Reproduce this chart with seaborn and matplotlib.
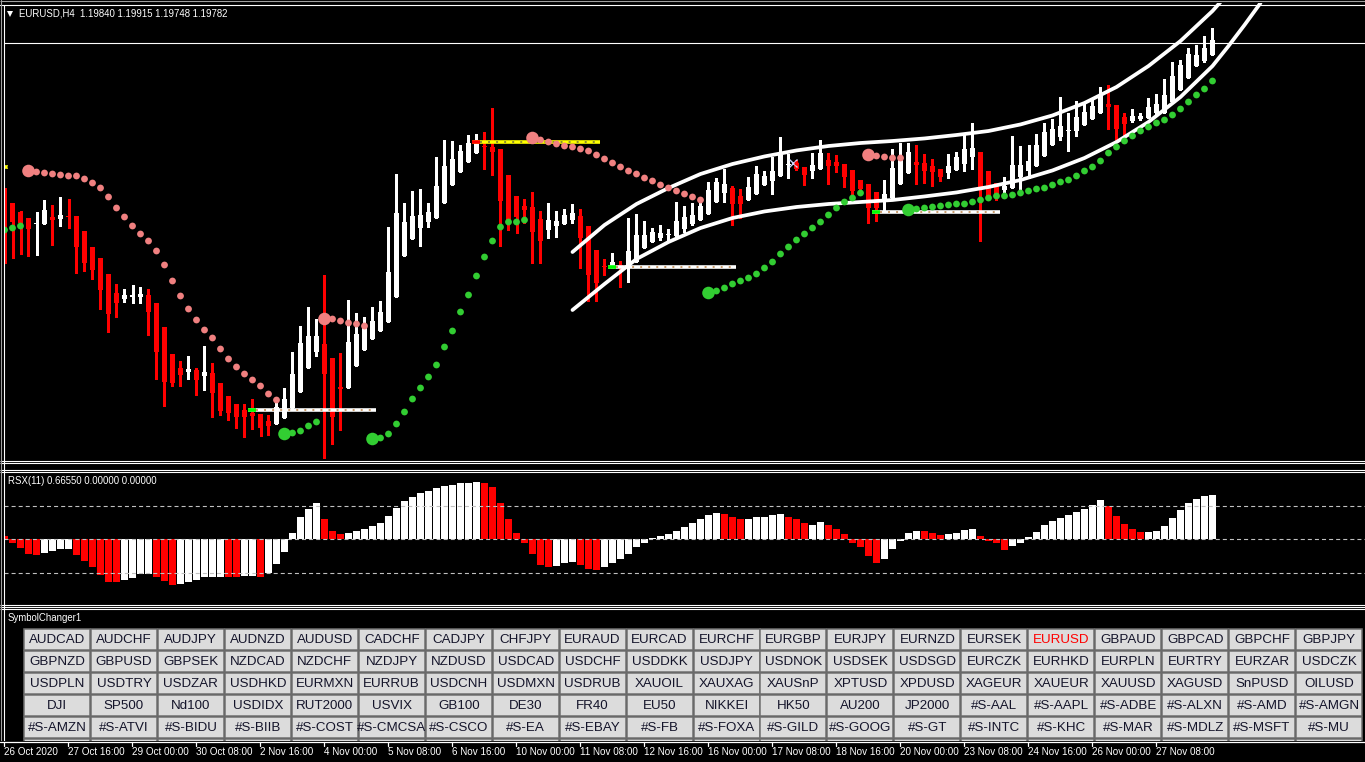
import matplotlib
matplotlib.use("Agg")
import matplotlib.pyplot as plt
from matplotlib.patches import Rectangle
import numpy as np
import seaborn as sns

sns.set_style("dark")
plt.rcParams["font.family"] = ["Liberation Sans", "DejaVu Sans"]
plt.rcParams["lines.scale_dashes"] = False

W, H = 1365, 762
RED = "#FF0000"
SALMON = "#F08080"
GREEN = "#32CD32"

# ---------------- data: EURUSD H4 candles, 26 Oct - 27 Nov 2020 ----------------
opens = [1.18397, 1.18343, 1.18262, 1.18208, 1.18154, 1.18154, 1.18217, 1.18199, 1.18226, 1.18226,
         1.18091, 1.17947, 1.17848, 1.17704, 1.17533, 1.17479, 1.17497, 1.17497, 1.17515, 1.17443,
         1.17227, 1.16984, 1.16858, 1.16822, 1.16840, 1.16786, 1.16813, 1.16723, 1.16606, 1.16534,
         1.16480, 1.16453, 1.16444, 1.16381, 1.16354, 1.16408, 1.16498, 1.16642, 1.16858, 1.17002,
         1.17074, 1.16948, 1.16687, 1.16678, 1.16876, 1.17020, 1.17119, 1.17191, 1.17272, 1.17497,
         1.17866, 1.18019, 1.18118, 1.18172, 1.18208, 1.18343, 1.18505, 1.18622, 1.18712, 1.18793,
         1.18856, 1.18847, 1.18829, 1.18595, 1.18406, 1.18316, 1.18307, 1.18199, 1.18100, 1.18136,
         1.18154, 1.18190, 1.18226, 1.18136, 1.17920, 1.17776, 1.17776, 1.17785, 1.17767, 1.17812,
         1.17938, 1.17992, 1.18028, 1.18055, 1.18046, 1.18109, 1.18154, 1.18190, 1.18244, 1.18352,
         1.18433, 1.18478, 1.18406, 1.18370, 1.18424, 1.18505, 1.18541, 1.18586, 1.18685, 1.18703,
         1.18667, 1.18631, 1.18649, 1.18730, 1.18712, 1.18694, 1.18640, 1.18550, 1.18514, 1.18442,
         1.18370, 1.18388, 1.18514, 1.18613, 1.18712, 1.18703, 1.18676, 1.18649, 1.18613, 1.18640,
         1.18694, 1.18757, 1.18802, 1.18631, 1.18523, 1.18460, 1.18478, 1.18577, 1.18631, 1.18676,
         1.18766, 1.18865, 1.18937, 1.18991, 1.18991, 1.19045, 1.19099, 1.19153, 1.19234, 1.19225,
         1.19117, 1.19081, 1.19099, 1.19108, 1.19153, 1.19153, 1.19252, 1.19360, 1.19468, 1.19576,
         1.19621, 1.19675]
highs = [1.18478, 1.18343, 1.18271, 1.18208, 1.18262, 1.18370, 1.18325, 1.18397, 1.18379, 1.18226,
         1.18091, 1.17947, 1.17848, 1.17704, 1.17614, 1.17569, 1.17605, 1.17587, 1.17569, 1.17443,
         1.17227, 1.16984, 1.16921, 1.16966, 1.16858, 1.17056, 1.16903, 1.16723, 1.16606, 1.16534,
         1.16534, 1.16579, 1.16444, 1.16435, 1.16561, 1.16678, 1.17002, 1.17236, 1.17407, 1.17299,
         1.17695, 1.16948, 1.16993, 1.17470, 1.17353, 1.17317, 1.17407, 1.17461, 1.18127, 1.18604,
         1.18343, 1.18451, 1.18469, 1.18343, 1.18757, 1.18910, 1.18901, 1.18865, 1.18955, 1.18964,
         1.18982, 1.19198, 1.18829, 1.18595, 1.18406, 1.18379, 1.18442, 1.18271, 1.18343, 1.18271,
         1.18289, 1.18334, 1.18289, 1.18136, 1.17920, 1.17839, 1.17893, 1.17821, 1.18208, 1.18244,
         1.18181, 1.18118, 1.18145, 1.18109, 1.18352, 1.18316, 1.18343, 1.18370, 1.18532, 1.18568,
         1.18649, 1.18496, 1.18469, 1.18577, 1.18676, 1.18631, 1.18757, 1.18937, 1.18784, 1.18730,
         1.18667, 1.18793, 1.18910, 1.18793, 1.18775, 1.18694, 1.18640, 1.18550, 1.18514, 1.18442,
         1.18550, 1.18829, 1.18883, 1.18883, 1.18865, 1.18784, 1.18739, 1.18649, 1.18784, 1.18802,
         1.18955, 1.19063, 1.18802, 1.18631, 1.18523, 1.18577, 1.18946, 1.18856, 1.18865, 1.18964,
         1.19063, 1.19099, 1.19297, 1.19153, 1.19261, 1.19243, 1.19279, 1.19387, 1.19405, 1.19225,
         1.19153, 1.19189, 1.19153, 1.19288, 1.19324, 1.19459, 1.19612, 1.19630, 1.19738, 1.19765,
         1.19846, 1.19918]
lows = [1.17803, 1.17845, 1.17882, 1.17864, 1.17873, 1.18154, 1.17965, 1.18136, 1.18118, 1.17713,
        1.17731, 1.17659, 1.17389, 1.17182, 1.17317, 1.17452, 1.17443, 1.17443, 1.17155, 1.16759,
        1.16516, 1.16696, 1.16696, 1.16759, 1.16615, 1.16660, 1.16417, 1.16435, 1.16390, 1.16318,
        1.16237, 1.16309, 1.16246, 1.16255, 1.16354, 1.16408, 1.16498, 1.16642, 1.16858, 1.16966,
        1.16048, 1.16174, 1.16300, 1.16678, 1.16876, 1.17020, 1.17119, 1.17191, 1.17272, 1.17497,
        1.17866, 1.18019, 1.17956, 1.18127, 1.18208, 1.18343, 1.18505, 1.18622, 1.18712, 1.18793,
        1.18649, 1.18595, 1.17956, 1.18100, 1.18073, 1.18163, 1.17803, 1.17803, 1.18028, 1.18037,
        1.18154, 1.18163, 1.17758, 1.17461, 1.17461, 1.17695, 1.17758, 1.17587, 1.17632, 1.17812,
        1.17938, 1.17992, 1.18010, 1.17992, 1.18046, 1.18082, 1.18145, 1.18190, 1.18244, 1.18352,
        1.18352, 1.18145, 1.18208, 1.18370, 1.18424, 1.18505, 1.18424, 1.18586, 1.18568, 1.18640,
        1.18505, 1.18568, 1.18649, 1.18514, 1.18622, 1.18487, 1.18370, 1.18424, 1.18163, 1.18181,
        1.18271, 1.18388, 1.18514, 1.18613, 1.18514, 1.18523, 1.18496, 1.18541, 1.18568, 1.18640,
        1.18631, 1.18649, 1.18001, 1.18370, 1.18370, 1.18415, 1.18478, 1.18460, 1.18568, 1.18676,
        1.18766, 1.18865, 1.18910, 1.18811, 1.18946, 1.19045, 1.19099, 1.19153, 1.19009, 1.18901,
        1.18955, 1.19072, 1.19090, 1.19108, 1.19126, 1.19153, 1.19252, 1.19360, 1.19468, 1.19576,
        1.19612, 1.19675]
closes = [1.18271, 1.18172, 1.18163, 1.18109, 1.18163, 1.18280, 1.18190, 1.18235, 1.18217, 1.17947,
          1.17803, 1.17740, 1.17560, 1.17344, 1.17443, 1.17515, 1.17515, 1.17524, 1.17362, 1.17002,
          1.16732, 1.16723, 1.16795, 1.16849, 1.16750, 1.16822, 1.16633, 1.16471, 1.16453, 1.16417,
          1.16417, 1.16426, 1.16318, 1.16336, 1.16507, 1.16579, 1.16804, 1.17083, 1.17146, 1.17146,
          1.16804, 1.16417, 1.16669, 1.17092, 1.17164, 1.17218, 1.17281, 1.17362, 1.17722, 1.18253,
          1.18172, 1.18226, 1.18235, 1.18262, 1.18496, 1.18676, 1.18739, 1.18811, 1.18883, 1.18910,
          1.18847, 1.18802, 1.18361, 1.18190, 1.18217, 1.18280, 1.18082, 1.18001, 1.18190, 1.18181,
          1.18235, 1.18253, 1.18028, 1.17695, 1.17623, 1.17767, 1.17812, 1.17776, 1.17911, 1.18055,
          1.18055, 1.18082, 1.18073, 1.18064, 1.18181, 1.18217, 1.18235, 1.18316, 1.18460, 1.18532,
          1.18514, 1.18334, 1.18334, 1.18487, 1.18604, 1.18586, 1.18631, 1.18775, 1.18694, 1.18649,
          1.18595, 1.18685, 1.18793, 1.18676, 1.18676, 1.18577, 1.18451, 1.18469, 1.18298, 1.18298,
          1.18424, 1.18658, 1.18730, 1.18802, 1.18685, 1.18631, 1.18622, 1.18577, 1.18676, 1.18757,
          1.18829, 1.18838, 1.18460, 1.18406, 1.18406, 1.18496, 1.18685, 1.18685, 1.18721, 1.18865,
          1.18982, 1.19009, 1.19036, 1.19000, 1.19117, 1.19162, 1.19216, 1.19315, 1.19207, 1.19009,
          1.19054, 1.19126, 1.19126, 1.19207, 1.19234, 1.19315, 1.19486, 1.19585, 1.19684, 1.19675,
          1.19738, 1.19810]

# trailing-stop dots (one per candle) and trend direction: u = up (green), d = down (salmon)
trail = [1.18100, 1.18118, 1.18136, 1.18631, 1.18622, 1.18613, 1.18604, 1.18595, 1.18586, 1.18586,
         1.18559, 1.18523, 1.18478, 1.18397, 1.18298, 1.18217, 1.18136, 1.18064, 1.18001, 1.17911,
         1.17785, 1.17641, 1.17506, 1.17389, 1.17290, 1.17200, 1.17128, 1.17029, 1.16939, 1.16867,
         1.16804, 1.16750, 1.16696, 1.16624, 1.16570, 1.16264, 1.16273, 1.16291, 1.16336, 1.16372,
         1.17299, 1.17299, 1.17281, 1.17263, 1.17254, 1.17236, 1.16219, 1.16228, 1.16264, 1.16354,
         1.16462, 1.16579, 1.16678, 1.16777, 1.16885, 1.17047, 1.17191, 1.17362, 1.17515, 1.17686,
         1.17857, 1.18001, 1.18127, 1.18172, 1.18172, 1.18190, 1.18928, 1.18910, 1.18892, 1.18874,
         1.18856, 1.18847, 1.18829, 1.18811, 1.18775, 1.18739, 1.18703, 1.18667, 1.18631, 1.18604,
         1.18568, 1.18541, 1.18505, 1.18478, 1.18451, 1.18424, 1.18397, 1.18370, 1.17533, 1.17551,
         1.17578, 1.17614, 1.17641, 1.17668, 1.17704, 1.17758, 1.17812, 1.17884, 1.17947, 1.18010,
         1.18064, 1.18118, 1.18172, 1.18235, 1.18298, 1.18352, 1.18388, 1.18433, 1.18775, 1.18766,
         1.18757, 1.18748, 1.18748, 1.18280, 1.18289, 1.18298, 1.18307, 1.18316, 1.18325, 1.18334,
         1.18334, 1.18352, 1.18370, 1.18388, 1.18406, 1.18406, 1.18415, 1.18433, 1.18451, 1.18469,
         1.18478, 1.18505, 1.18532, 1.18550, 1.18586, 1.18631, 1.18667, 1.18721, 1.18793, 1.18847,
         1.18901, 1.18946, 1.18991, 1.19027, 1.19063, 1.19090, 1.19135, 1.19189, 1.19252, 1.19315,
         1.19369, 1.19441]
trend = ("uuu" + "d" * 32 + "u" * 5 + "d" * 6 + "u" * 20 + "d" * 22 + "u" * 20 + "d" * 5 + "u" * 39)
flip_bars = [3, 35, 40, 46, 66, 88, 108, 113]

# polynomial regression channel
chan_up_idx = [71, 75, 79, 83, 87, 91, 95, 99, 103, 107, 111, 115, 119, 123, 127, 131, 135, 139, 143,
               147, 151, 152]
chan_upper = [1.17902, 1.18145, 1.18334, 1.18478, 1.18604, 1.18694, 1.18762, 1.18816, 1.18856, 1.18883,
              1.18901, 1.18924, 1.18955, 1.18991, 1.19050, 1.19131, 1.19243, 1.19387, 1.19576, 1.19801,
              1.20071, 1.20152]
chan_lo_idx = [71, 75, 79, 83, 87, 91, 95, 99, 103, 107, 111, 115, 119, 123, 127, 131, 135, 139, 143,
               147, 151, 153, 155, 157]
chan_lower = [1.17380, 1.17614, 1.17839, 1.17992, 1.18118, 1.18208, 1.18267, 1.18307, 1.18334, 1.18352,
              1.18370, 1.18402, 1.18438, 1.18487, 1.18550, 1.18636, 1.18748, 1.18892, 1.19072, 1.19297,
              1.19576, 1.19756, 1.19945, 1.20143]

# support / resistance segments (start bar, price)
sr_white_start = [30.45, 75.44, 108.44]
sr_white_price = [1.16480, 1.17770, 1.18265]
sr_yellow_start = [-15.56, 58.44]
sr_yellow_price = [1.18667, 1.18895]
sr_len = 16
bid = 1.19782

# RSX(11) histogram
rsx = [0.05, -0.05, -0.13, -0.22, -0.24, -0.20, -0.18, -0.14, -0.14, -0.23,
       -0.32, -0.41, -0.53, -0.64, -0.64, -0.61, -0.58, -0.52, -0.52, -0.56,
       -0.62, -0.68, -0.67, -0.64, -0.61, -0.56, -0.56, -0.56, -0.56, -0.56,
       -0.55, -0.55, -0.56, -0.50, -0.37, -0.19, 0.10, 0.34, 0.46, 0.55,
       0.31, 0.13, 0.08, 0.10, 0.13, 0.16, 0.20, 0.25, 0.35, 0.47,
       0.57, 0.64, 0.69, 0.73, 0.77, 0.80, 0.82, 0.84, 0.85, 0.86,
       0.85, 0.78, 0.55, 0.30, 0.10, -0.05, -0.22, -0.38, -0.42, -0.40,
       -0.36, -0.34, -0.38, -0.44, -0.46, -0.42, -0.36, -0.30, -0.22, -0.12,
       -0.05, 0.02, 0.05, 0.08, 0.13, 0.18, 0.24, 0.30, 0.36, 0.40,
       0.38, 0.34, 0.30, 0.30, 0.33, 0.34, 0.36, 0.38, 0.34, 0.30,
       0.24, 0.22, 0.26, 0.22, 0.16, 0.08, -0.05, -0.12, -0.25, -0.35,
       -0.30, -0.15, -0.02, 0.10, 0.12, 0.12, 0.10, 0.07, 0.08, 0.10,
       0.14, 0.16, 0.05, -0.02, -0.06, -0.16, -0.10, -0.06, 0.03, 0.11,
       0.21, 0.27, 0.32, 0.37, 0.41, 0.46, 0.52, 0.59, 0.50, 0.35,
       0.23, 0.15, 0.11, 0.11, 0.12, 0.20, 0.32, 0.44, 0.55, 0.61,
       0.65, 0.6655]
rsx_col = ("rrrrr" "wwww" "rrrrrr" "wwww" "rrr" "wwwwww" "rr" "ww" "r" "wwwwwww" "rrr" "wwwwwww"
           "wwwwwwwwww" "rrrrrrrrr" "www" "rrr" "wwwwwwwwwwwwwww" "rrr" "wwwww" "rrr" "ww" "rrrrrrr"
           "wwwww" "rrr" "wwww" "rrr"
           "r" "wwwwwwwwwwww" "rrrrr" "wwwwwwwww")

time_labels = ["26 Oct 2020", "27 Oct 16:00", "29 Oct 00:00", "30 Oct 08:00", "2 Nov 16:00",
               "4 Nov 00:00", "5 Nov 08:00", "6 Nov 16:00", "10 Nov 00:00", "11 Nov 08:00",
               "12 Nov 16:00", "16 Nov 00:00", "17 Nov 08:00", "18 Nov 16:00", "20 Nov 00:00",
               "23 Nov 08:00", "24 Nov 16:00", "26 Nov 00:00", "27 Nov 08:00"]

symbols = [
    ["AUDCAD", "AUDCHF", "AUDJPY", "AUDNZD", "AUDUSD", "CADCHF", "CADJPY", "CHFJPY", "EURAUD", "EURCAD",
     "EURCHF", "EURGBP", "EURJPY", "EURNZD", "EURSEK", "EURUSD", "GBPAUD", "GBPCAD", "GBPCHF", "GBPJPY"],
    ["GBPNZD", "GBPUSD", "GBPSEK", "NZDCAD", "NZDCHF", "NZDJPY", "NZDUSD", "USDCAD", "USDCHF", "USDDKK",
     "USDJPY", "USDNOK", "USDSEK", "USDSGD", "EURCZK", "EURHKD", "EURPLN", "EURTRY", "EURZAR", "USDCZK"],
    ["USDPLN", "USDTRY", "USDZAR", "USDHKD", "EURMXN", "EURRUB", "USDCNH", "USDMXN", "USDRUB", "XAUOIL",
     "XAUXAG", "XAUSnP", "XPTUSD", "XPDUSD", "XAGEUR", "XAUEUR", "XAUUSD", "XAGUSD", "SnPUSD", "OILUSD"],
    ["DJI", "SP500", "Nd100", "USDIDX", "RUT2000", "USVIX", "GB100", "DE30", "FR40", "EU50",
     "NIKKEI", "HK50", "AU200", "JP2000", "#S-AAL", "#S-AAPL", "#S-ADBE", "#S-ALXN", "#S-AMD", "#S-AMGN"],
    ["#S-AMZN", "#S-ATVI", "#S-BIDU", "#S-BIIB", "#S-COST", "#S-CMCSA", "#S-CSCO", "#S-EA", "#S-EBAY", "#S-FB",
     "#S-FOXA", "#S-GILD", "#S-GOOG", "#S-GT", "#S-INTC", "#S-KHC", "#S-MAR", "#S-MDLZ", "#S-MSFT", "#S-MU"],
    [""] * 20,
]
active_symbol = "EURUSD"

# ---------------- figure ----------------
fig = plt.figure(figsize=(W / 100, H / 100), dpi=100, facecolor="black")


def px_axes(x0, y0, x1, y1, **kw):
    a = fig.add_axes([x0 / W, 1 - y1 / H, (x1 - x0) / W, (y1 - y0) / H], **kw)
    a.set_axis_off()
    return a


# main price chart
ax = px_axes(4, 3, W, 462)
ax.set_xlim((4 - 4.5) / 8, (W - 4.5) / 8)
ax.set_ylim(1.16012, 1.20143)

o, hi, lo, c = map(np.array, (opens, highs, lows, closes))
idx = np.arange(len(o))
col = np.where(c < o, RED, "white")
ax.vlines(idx, lo, hi, colors=col, lw=1.0, antialiased=False, zorder=3)
ax.bar(idx, np.maximum(np.abs(c - o), 0.00011), bottom=np.minimum(o, c), width=0.625,
       color=col, linewidth=0, antialiased=False, zorder=3)

ax.axhline(bid, color="white", lw=0.8, zorder=2)

sns.lineplot(x=chan_up_idx, y=chan_upper, color="white", lw=2.7, ax=ax, zorder=5)
sns.lineplot(x=chan_lo_idx, y=chan_lower, color="white", lw=2.7, ax=ax, zorder=5)

trail = np.array(trail)
pal = {"u": GREEN, "d": SALMON}
sns.scatterplot(x=idx, y=trail, hue=list(trend), palette=pal, s=24, linewidth=0,
                legend=False, ax=ax, zorder=6)
sns.scatterplot(x=flip_bars, y=trail[flip_bars], hue=[trend[i] for i in flip_bars], palette=pal,
                s=82, linewidth=0, legend=False, ax=ax, zorder=6)

for s0, p in zip(sr_white_start, sr_white_price):
    ax.hlines(p, s0, s0 + sr_len, color="white", lw=2.6, zorder=4)
    ax.hlines(p, s0 + 1, s0 + sr_len, color="#C89A6A", lw=1.4, linestyles=(0, (1.4, 4.4)), zorder=4)
    ax.hlines(p, s0, s0 + 1, color="#00FF00", lw=2.6, zorder=4)
for s0, p in zip(sr_yellow_start, sr_yellow_price):
    ax.hlines(p, s0, s0 + sr_len, color="#FFFF00", lw=2.6, zorder=4)
    ax.hlines(p, s0 + 1, s0 + sr_len, color="#8A8A30", lw=1.4, linestyles=(0, (1.4, 4.4)), zorder=4)
    ax.hlines(p, s0, s0 + 1, color=RED, lw=2.6, zorder=4)

ax.plot(98.6, 1.18703, marker="x", color="#C8D8FF", ms=6, mew=1, zorder=7)
ax.plot(98.9, 1.18703, marker="o", color=RED, ms=3, mew=0, zorder=7)

# RSX sub-window
axr = px_axes(4, 471, W, 606)
axr.set_xlim((4 - 4.5) / 8, (W - 4.5) / 8)
axr.set_ylim(-1.0015, 1.0255)
axr.bar(idx, rsx, width=0.875, color=[RED if ch == "r" else "white" for ch in rsx_col],
        linewidth=0, antialiased=False, zorder=2)
for lvl in (0.5, 0.0, -0.5):
    axr.axhline(lvl, color="#C0C0C0", lw=0.8, linestyle=(0, (2.9, 2.2)), zorder=3)

# overlay in pixel coordinates: frames, texts, buttons, time scale
ov = fig.add_axes([0, 0, 1, 1], zorder=10)
ov.set_xlim(0, W)
ov.set_ylim(H, 0)
ov.set_axis_off()
ov.patch.set_alpha(0)

for yy in (1, 461, 463, 470, 472, 605, 607, 609):
    ov.plot([0, W], [yy, yy], color="white" if yy > 1 else "#A0A0A0", lw=0.8, solid_capstyle="butt")
ov.plot([0, W], [5, 5], color="white", lw=0.8)
ov.plot([3.5, 3.5], [5, 741], color="white", lw=0.8)
ov.plot([1, 1], [0, 741], color="#A0A0A0", lw=0.8)

ov.plot(10, 13.5, marker="v", color="white", ms=4, mew=0)
ov.text(19, 14, "EURUSD,H4  1.19840 1.19915 1.19748 1.19782", color="white", fontsize=6.9,
        va="center", ha="left")
ov.text(8, 481, "RSX(11) 0.66550 0.00000 0.00000", color="white", fontsize=6.9, va="center")
ov.text(8, 618, "SymbolChanger1", color="white", fontsize=6.9, va="center")

bx0, by0, bdx, bdy, bw, bh = 24, 629, 66.95, 22, 66, 21
for r, row in enumerate(symbols):
    for ci, name in enumerate(row):
        x0 = bx0 + ci * bdx
        y0 = by0 + r * bdy
        rect = Rectangle((x0, y0), bw, bh, facecolor="#DCDCDC", edgecolor="#707070", lw=1.1)
        ov.add_patch(rect)
        if name:
            t = ov.text(x0 + bw / 2, y0 + bh / 2 + 0.5, name, ha="center", va="center",
                        fontsize=9.6, color=RED if name == active_symbol else "#14142A")
            t.set_clip_path(rect)

ov.add_patch(Rectangle((0, 741), W, H - 741, facecolor="black", edgecolor="none", zorder=5))
ov.plot([0, W], [741.5, 741.5], color="white", lw=0.9, zorder=6)
for i, lab in enumerate(time_labels):
    tx = 4 + 64 * i
    ov.plot([tx, tx], [741.5, 745.5], color="white", lw=0.9, zorder=6)
    ov.text(tx, 752, lab, color="white", fontsize=7.1, ha="left", va="center", zorder=6)

fig.savefig("out.png", dpi=100, facecolor="black")
